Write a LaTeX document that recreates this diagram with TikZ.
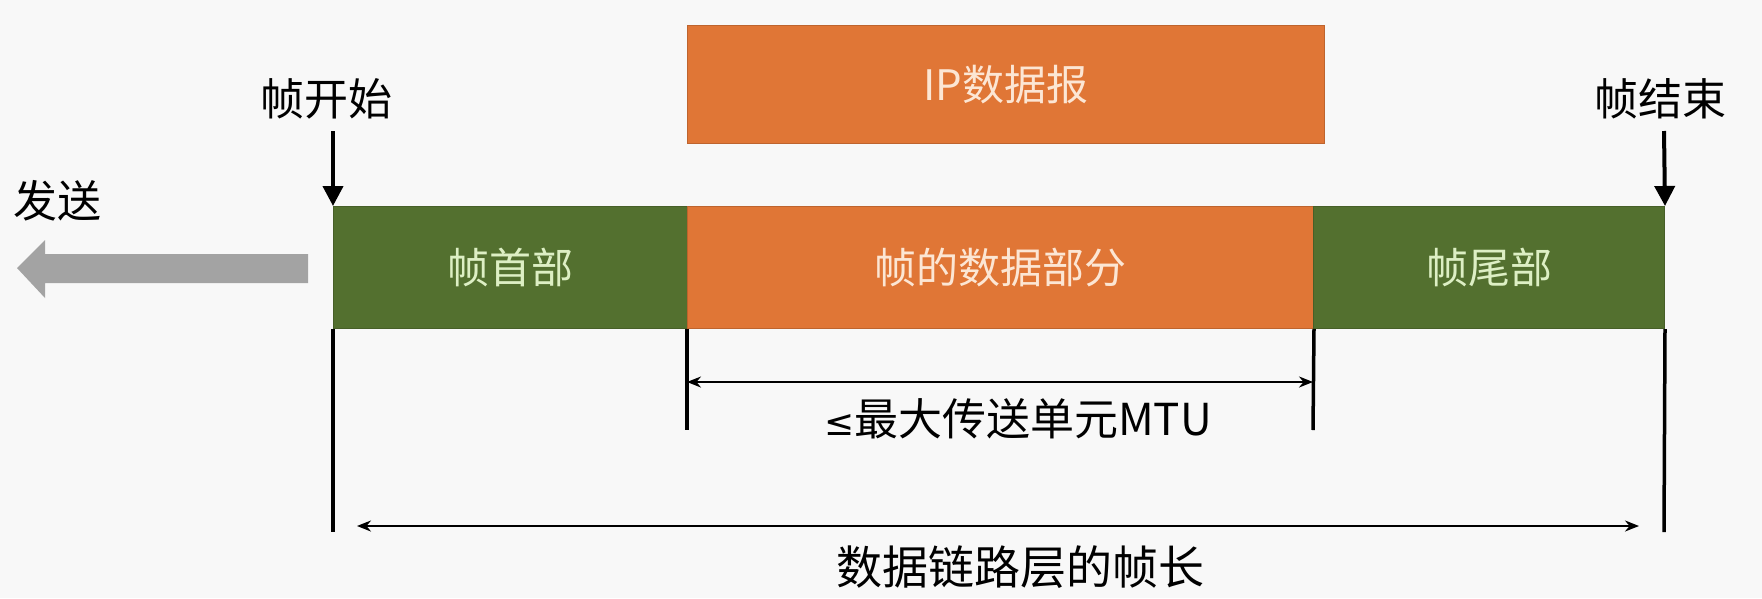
\documentclass[tikz,border=0pt]{standalone}
\usepackage{fontspec}
\newfontfamily\cjk{Noto Sans CJK SC}
\newfontfamily\symfont{DejaVu Sans}
\usetikzlibrary{arrows.meta}
\definecolor{bg}{HTML}{F8F8F8}
\definecolor{fgreen}{HTML}{53702F}
\definecolor{forange}{HTML}{E07636}
\definecolor{tgreen}{HTML}{DDEFC4}
\definecolor{torange}{HTML}{FCE6D4}
\definecolor{agray}{HTML}{A3A3A3}
\tikzset{
  seg/.style={anchor=north west, inner sep=0pt, font=\cjk\fontsize{42}{50}\selectfont},
  greenseg/.style={seg, fill=fgreen, draw=fgreen!85!black, line width=1pt, text=tgreen},
  orangeseg/.style={seg, fill=forange, draw=forange!85!black, line width=1pt, text=torange},
  lbl/.style={font=\cjk\fontsize{44}{52}\selectfont, text=black, inner sep=0pt},
  marker/.style={line width=3.5pt, black},
  downarrow/.style={line width=4pt, -{Triangle[length=20pt,width=20pt]}},
  dimarrow/.style={line width=2pt, {Stealth[length=14pt,width=11pt]}-{Stealth[length=14pt,width=11pt]}}
}
\begin{document}
\begin{tikzpicture}[x=1pt,y=-1pt]
\fill[bg] (0,0) rectangle (1762,598);
\useasboundingbox (0,0) rectangle (1762,598);

% IP datagram
\node[orangeseg, minimum width=637pt, minimum height=118pt] (ip) at (687,25) {IP数据报};

% frame segments
\node[greenseg, minimum width=354pt, minimum height=122pt] (hdr) at (333,206) {帧首部};
\node[orangeseg, minimum width=626pt, minimum height=122pt] (data) at (687,206) {帧的数据部分};
\node[greenseg, minimum width=351pt, minimum height=122pt] (trl) at (1313,206) {帧尾部};

% top labels with arrows
\node[lbl] (start) at (326,99) {帧开始};
\node[lbl] (end) at (1660,99) {帧结束};
\coordinate (sa) at (333,131);
\coordinate (ea) at (1664,131);
\draw[downarrow] (sa) -- (hdr.north west);
\draw[downarrow] (ea) -- (trl.north east);

% send arrow
\node[lbl] (send) at (57,201) {发送};
\fill[agray] (17,268) -- (45,240) -- (45,254) -- (308,254) -- (308,283) -- (45,283) -- (45,298) -- cycle;

% marker lines
\coordinate (m1) at (333,532);
\coordinate (m2) at (687,430);
\coordinate (m3) at (1313,430);
\coordinate (m4) at (1664,532);
\draw[marker] (hdr.south west) -- (m1);
\draw[marker] (data.south west) -- (m2);
\draw[marker] (data.south east) -- (m3);
\draw[marker] (trl.south east) -- (m4);

% dimension arrows
\coordinate (d1a) at (687,382);
\coordinate (d1b) at (1313,382);
\draw[dimarrow] (d1a) -- (d1b);
\node[lbl] (mtu) at (1018,419) {{\symfont\fontsize{36}{44}\selectfont ≤}最大传送单元MTU};

\coordinate (d2a) at (357,526);
\coordinate (d2b) at (1639,526);
\draw[dimarrow] (d2a) -- (d2b);
\node[lbl, font=\cjk\fontsize{46}{54}\selectfont] (flen) at (1020,567) {数据链路层的帧长};
\end{tikzpicture}
\end{document}
